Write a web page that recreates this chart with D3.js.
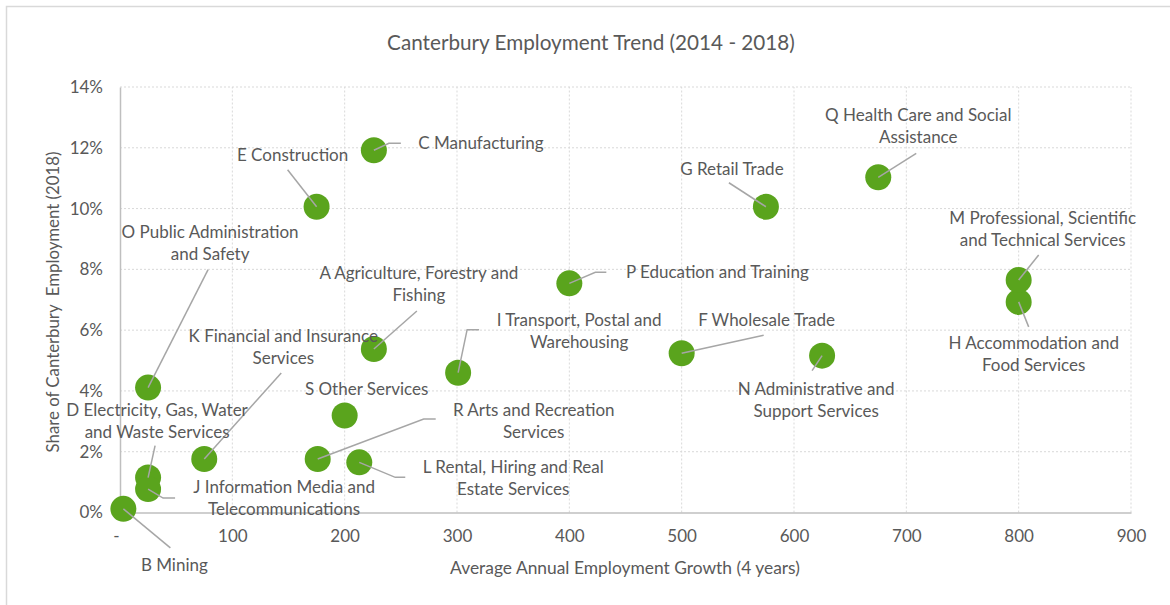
<!DOCTYPE html>
<html>
<head>
<meta charset="utf-8">
<script src="https://cdnjs.cloudflare.com/ajax/libs/d3/7.8.5/d3.min.js"></script>
<style>
    body { margin: 0; background: #fff; }
    text { font-family: Lato, "Liberation Sans", sans-serif; fill: #595959; }
</style>
</head>
<body>
<div id="chart"></div>
<script>
// Industry codes and values
var codes = ['A', 'B', 'C', 'D', 'E', 'F', 'G', 'H', 'I', 'J', 'K', 'L', 'M', 'N', 'O', 'P', 'Q', 'R', 'S'];
var names = [
    'Agriculture, Forestry and Fishing',
    'Mining',
    'Manufacturing',
    'Electricity, Gas, Water and Waste Services',
    'Construction',
    'Wholesale Trade',
    'Retail Trade',
    'Accommodation and Food Services',
    'Transport, Postal and Warehousing',
    'Information Media and Telecommunications',
    'Financial and Insurance Services',
    'Rental, Hiring and Real Estate Services',
    'Professional, Scientific and Technical Services',
    'Administrative and Support Services',
    'Public Administration and Safety',
    'Education and Training',
    'Health Care and Social Assistance',
    'Arts and Recreation Services',
    'Other Services'
];
// average annual employment growth (4 years)
var growth = [226, 3, 226, 25, 175, 500, 575, 800, 301, 25, 75, 213, 800, 625, 25, 400, 675, 176, 200];
// share of Canterbury employment (2018)
var share = [0.0538, 0.0012, 0.1192, 0.0115, 0.1006, 0.0524, 0.1006, 0.0693, 0.0460, 0.0077, 0.0176, 0.0165, 0.0765, 0.0516, 0.0411, 0.0754, 0.1103, 0.0176, 0.0319];

var xTicks = [0, 100, 200, 300, 400, 500, 600, 700, 800, 900];
var yTicks = [0, 0.02, 0.04, 0.06, 0.08, 0.10, 0.12, 0.14];

// Label placement: text lines, centre offset of the first line, leader path (offsets from the point)
var labelLayout = {
    'A': { lines: ['A Agriculture, Forestry and', 'Fishing'], dx: 45, dy: -76, leader: [[43, -38]] },
    'B': { lines: ['B Mining'], dx: 51, dy: 56, leader: [[47, 39]] },
    'C': { lines: ['C Manufacturing'], dx: 107, dy: -7, leader: [[15, -7], [27, -7]] },
    'D': { lines: ['D Electricity, Gas, Water', 'and Waste Services'], dx: 9, dy: -67, leader: [[7, -32]] },
    'E': { lines: ['E Construction'], dx: -24, dy: -52, leader: [[-29, -37]] },
    'F': { lines: ['F Wholesale Trade'], dx: 85, dy: -33, leader: [[82, -18]] },
    'G': { lines: ['G Retail Trade'], dx: -34, dy: -38, leader: [[-37, -24]] },
    'H': { lines: ['H Accommodation and', 'Food Services'], dx: 15, dy: 41, leader: [[10, 25]] },
    'I': { lines: ['I Transport, Postal and', 'Warehousing'], dx: 121, dy: -53, leader: [[9, -43], [21, -43]] },
    'J': { lines: ['J Information Media and', 'Telecommunications'], dx: 136, dy: -2, leader: [[15, 9], [27, 9]] },
    'K': { lines: ['K Financial and Insurance', 'Services'], dx: 79, dy: -123, leader: [[77, -86]] },
    'L': { lines: ['L Rental, Hiring and Real', 'Estate Services'], dx: 154, dy: 5, leader: [[36, 15], [46, 15]] },
    'M': { lines: ['M Professional, Scientific', 'and Technical Services'], dx: 24, dy: -62, leader: [[20, -25]] },
    'N': { lines: ['N Administrative and', 'Support Services'], dx: -6, dy: 33, leader: [[-10, 15]] },
    'O': { lines: ['O Public Administration', 'and Safety'], dx: 62, dy: -156, leader: [[60, -118]] },
    'P': { lines: ['P Education and Training'], dx: 148, dy: -11, leader: [[26, -11], [37, -11]] },
    'Q': { lines: ['Q Health Care and Social', 'Assistance'], dx: 40, dy: -62, leader: [[38, -24]] },
    'R': { lines: ['R Arts and Recreation', 'Services'], dx: 216, dy: -49, leader: [[106, -40], [118, -40]] },
    'S': { lines: ['S Other Services'], dx: 22, dy: -26, leader: [] }
};

var width = 1170, height = 605;
var lineHeight = 22;
var fontSize = '17px';

var data = codes.map(function(c, i) {
    return { code: c, name: names[i], growth: growth[i], share: share[i] };
});

var svg = d3.select('#chart')
    .append('svg')
    .attr('width', width)
    .attr('height', height);

// chart frame
svg.append('rect')
    .attr('x', 6.5).attr('y', 6.5)
    .attr('width', width).attr('height', height)
    .attr('fill', 'none')
    .attr('stroke', '#d9d9d9')
    .attr('stroke-width', 1.5);

var x = d3.scaleLinear().domain([0, 900]).range([120, 1131]);
var y = d3.scaleLinear().domain([0, 0.14]).range([512.5, 87]);

// gridlines
svg.append('g')
    .selectAll('line')
    .data(xTicks.slice(1))
    .enter().append('line')
    .attr('x1', function(d) { return x(d); })
    .attr('x2', function(d) { return x(d); })
    .attr('y1', y(0)).attr('y2', y(0.14))
    .attr('stroke', '#d9d9d9')
    .attr('stroke-dasharray', '2,2');

svg.append('g')
    .selectAll('line')
    .data(yTicks.slice(1))
    .enter().append('line')
    .attr('x1', x(0)).attr('x2', x(900))
    .attr('y1', function(d) { return y(d); })
    .attr('y2', function(d) { return y(d); })
    .attr('stroke', '#d9d9d9')
    .attr('stroke-dasharray', '2,2');

// axes
var xAxis = d3.axisBottom(x)
    .tickValues(xTicks)
    .tickSize(0)
    .tickPadding(17)
    .tickFormat(function(d) { return d === 0 ? '-' : d; });

var yAxis = d3.axisLeft(y)
    .tickValues(yTicks)
    .tickSize(0)
    .tickPadding(17)
    .tickFormat(d3.format('.0%'));

var gx = svg.append('g')
    .attr('transform', 'translate(0,' + y(0) + ')')
    .call(xAxis);
gx.select('.domain').attr('stroke', '#bfbfbf').attr('stroke-width', 1.5);
gx.selectAll('text').style('font-size', fontSize).attr('fill', '#595959');
gx.selectAll('.tick').filter(function(d) { return d === 0; })
    .select('text').attr('dx', -4);

var gy = svg.append('g')
    .attr('transform', 'translate(' + x(0) + ',0)')
    .call(yAxis);
gy.select('.domain').attr('stroke', '#bfbfbf').attr('stroke-width', 1.5);
gy.selectAll('text').style('font-size', fontSize).attr('fill', '#595959');

// titles
svg.append('text')
    .attr('x', 591).attr('y', 43)
    .attr('dy', '0.35em')
    .attr('text-anchor', 'middle')
    .style('font-size', '20.7px')
    .text('Canterbury Employment Trend (2014 - 2018)');

svg.append('text')
    .attr('x', 625).attr('y', 568)
    .attr('dy', '0.35em')
    .attr('text-anchor', 'middle')
    .style('font-size', '17.4px')
    .text('Average Annual Employment Growth (4 years)');

svg.append('text')
    .attr('transform', 'translate(53,302) rotate(-90)')
    .attr('dy', '0.35em')
    .attr('text-anchor', 'middle')
    .style('font-size', '16.8px')
    .style('white-space', 'pre')
    .text('Share of Canterbury  Employment (2018)');

// points
svg.append('g')
    .selectAll('circle')
    .data(data)
    .enter().append('circle')
    .attr('cx', function(d) { return x(d.growth); })
    .attr('cy', function(d) { return y(d.share); })
    .attr('r', 13)
    .attr('fill', '#5aa41d');

// leader lines
var line = d3.line();
svg.append('g')
    .selectAll('path')
    .data(data.filter(function(d) { return labelLayout[d.code].leader.length > 0; }))
    .enter().append('path')
    .attr('d', function(d) {
        var px = x(d.growth), py = y(d.share);
        var pts = [[px, py]].concat(labelLayout[d.code].leader.map(function(p) {
            return [px + p[0], py + p[1]];
        }));
        return line(pts);
    })
    .attr('fill', 'none')
    .attr('stroke', '#a6a6a6')
    .attr('stroke-width', 1.5);

// data labels
var labels = svg.append('g')
    .selectAll('text')
    .data(data)
    .enter().append('text')
    .attr('text-anchor', 'middle')
    .style('font-size', fontSize);

labels.each(function(d) {
    var lay = labelLayout[d.code];
    var px = x(d.growth) + lay.dx, py = y(d.share) + lay.dy;
    var t = d3.select(this);
    lay.lines.forEach(function(s, i) {
        t.append('tspan')
            .attr('x', px)
            .attr('y', py + i * lineHeight)
            .attr('dy', '0.35em')
            .text(s);
    });
});
</script>
</body>
</html>
